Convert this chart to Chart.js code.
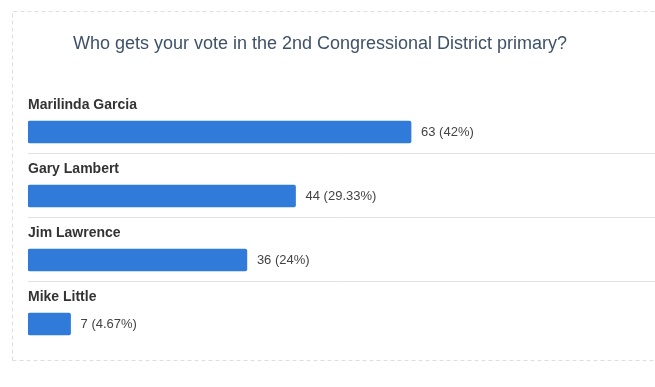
<!DOCTYPE html>
<html>
<head>
<meta charset="utf-8">
<script src="https://cdn.jsdelivr.net/npm/chart.js@4"></script>
<style>
  html, body { margin: 0; padding: 0; background: #fff; }
  #wrap { width: 655px; height: 387px; position: relative; }
</style>
</head>
<body>
<div id="wrap"><canvas id="pollChart" width="655" height="387"></canvas></div>
<script>
const title = 'Who gets your vote in the 2nd Congressional District primary?';
const candidates = ['Marilinda Garcia', 'Gary Lambert', 'Jim Lawrence', 'Mike Little'];
const votes = [63, 44, 36, 7];
const shares = ['42%', '29.33%', '24%', '4.67%'];

const FONT = '"Liberation Sans", Arial, Helvetica, sans-serif';

// frame, title, candidate names, value labels and row separators
const pollDecor = {
  id: 'pollDecor',
  beforeDraw(chart) {
    const ctx = chart.ctx;
    ctx.save();
    ctx.strokeStyle = '#dedede';
    ctx.lineWidth = 1;
    ctx.setLineDash([4, 3]);
    ctx.beginPath();
    ctx.moveTo(12.5, 360.5);
    ctx.lineTo(12.5, 11.5);
    ctx.lineTo(655, 11.5);
    ctx.moveTo(12.5, 360.5);
    ctx.lineTo(655, 360.5);
    ctx.stroke();
    ctx.setLineDash([]);

    ctx.fillStyle = '#3e5268';
    ctx.font = '18px ' + FONT;
    ctx.textAlign = 'center';
    ctx.textBaseline = 'middle';
    ctx.fillText(title, 320, 44);
    ctx.restore();
  },
  afterDatasetsDraw(chart) {
    const ctx = chart.ctx;
    const meta = chart.getDatasetMeta(0);
    ctx.save();
    meta.data.forEach((bar, i) => {
      const top = bar.y - bar.height / 2;
      const bottom = bar.y + bar.height / 2;

      ctx.fillStyle = '#333';
      ctx.font = 'bold 14px ' + FONT;
      ctx.textAlign = 'left';
      ctx.textBaseline = 'middle';
      ctx.fillText(candidates[i], bar.base, top - 16);

      ctx.fillStyle = '#444';
      ctx.font = '13px ' + FONT;
      ctx.fillText(votes[i] + ' (' + shares[i] + ')', bar.x + 10, bar.y);

      if (i < meta.data.length - 1) {
        ctx.strokeStyle = '#e2e2e2';
        ctx.lineWidth = 1;
        ctx.beginPath();
        ctx.moveTo(bar.base, Math.round(bottom + 10) + 0.5);
        ctx.lineTo(655, Math.round(bottom + 10) + 0.5);
        ctx.stroke();
      }
    });
    ctx.restore();
  }
};

new Chart(document.getElementById('pollChart'), {
  type: 'bar',
  data: {
    labels: candidates,
    datasets: [{
      data: votes,
      backgroundColor: '#307ad9',
      borderRadius: 2,
      borderSkipped: false,
      barThickness: 22
    }]
  },
  options: {
    indexAxis: 'y',
    responsive: false,
    animation: false,
    layout: { padding: { top: 100, bottom: 31, left: 28, right: 19 } },
    scales: {
      x: { display: false, min: 0, max: 100 },
      y: { display: false }
    },
    plugins: {
      legend: { display: false },
      tooltip: { enabled: false }
    }
  },
  plugins: [pollDecor]
});
</script>
</body>
</html>
